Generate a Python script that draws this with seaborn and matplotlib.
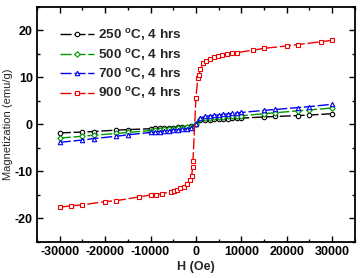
import matplotlib
matplotlib.use("Agg")
import matplotlib.pyplot as plt
import seaborn as sns
import pandas as pd
from matplotlib.ticker import MultipleLocator

sns.set_theme(style="ticks")
plt.rcParams['font.family'] = ['Liberation Sans', 'DejaVu Sans']
plt.rcParams['axes.unicode_minus'] = False

# ---- data ----
H_low = [-30000, -25000, -22500, -17500, -15000, -10000, -9000, -8000, -7000, -6000,
         -5000, -4000, -3000, -2000, -1000, 0, 1000, 2000, 3000, 4000, 5000, 6000,
         7000, 8000, 9000, 10000, 15000, 17500, 22500, 25000, 30000]
M_250 = [-1.8, -1.6, -1.5, -1.2, -1.1, -0.9, -0.85, -0.8, -0.75, -0.7,
         -0.65, -0.6, -0.5, -0.45, -0.35, 0.0, 0.9, 1.0, 1.05, 1.1, 1.15, 1.2,
         1.25, 1.3, 1.3, 1.35, 1.6, 1.7, 1.9, 2.0, 2.3]
M_500 = [-2.9, -2.5, -2.3, -1.9, -1.7, -1.3, -1.2, -1.1, -1.0, -0.95,
         -0.9, -0.8, -0.7, -0.6, -0.45, 0.0, 1.1, 1.3, 1.4, 1.5, 1.55, 1.6,
         1.7, 1.75, 1.8, 1.85, 2.3, 2.5, 2.9, 3.1, 3.5]
M_700 = [-3.8, -3.3, -3.0, -2.5, -2.2, -1.7, -1.6, -1.5, -1.4, -1.3,
         -1.2, -1.1, -1.0, -0.9, -0.7, 0.2, 1.4, 1.7, 1.85, 1.95, 2.05, 2.15,
         2.25, 2.35, 2.45, 2.55, 3.0, 3.2, 3.6, 3.8, 4.3]
H_900 = [-30000, -27500, -25000, -20000, -17500, -12500, -10000, -8900, -7400, -5600,
         -4800, -4100, -3400, -2600, -1900, -1400, -950, -700, -650, 0, 400, 700,
         1000, 1500, 2300, 3100, 4000, 4900, 5800, 6900, 8000, 9100, 12500, 15000,
         20000, 22500, 27500, 30000]
M_900 = [-17.6, -17.3, -17.1, -16.4, -16.2, -15.4, -15.0, -14.9, -14.7, -14.3,
         -14.2, -14.0, -13.6, -13.3, -12.6, -11.8, -10.9, -9.0, -7.8, 5.7, 9.8, 10.5,
         11.9, 13.0, 13.5, 13.9, 14.3, 14.5, 14.7, 15.0, 15.1, 15.3, 15.8, 16.2,
         16.7, 17.0, 17.6, 17.9]
labels = ["250 $^{\\mathregular{o}}$C, 4 hrs", "500 $^{\\mathregular{o}}$C, 4 hrs",
          "700 $^{\\mathregular{o}}$C, 4 hrs", "900 $^{\\mathregular{o}}$C, 4 hrs"]
x_ticks = [-30000, -20000, -10000, 0, 10000, 20000, 30000]
y_ticks = [-20, -10, 0, 10, 20]

series = [
    (H_low, M_250, "#000000", "o"),
    (H_low, M_500, "#009900", "D"),
    (H_low, M_700, "#0000ee", "^"),
    (H_900, M_900, "#ee0000", "s"),
]

fig = plt.figure(figsize=(3.61, 2.78), dpi=100)
ax = fig.add_axes([0.1025, 0.1295, 0.8805, 0.8455])

for (hx, my, col, mk), lab in zip(series, labels):
    df = pd.DataFrame({"H": hx, "M": my})
    ms = 3.2 if mk != "D" else 2.8
    sns.lineplot(data=df, x="H", y="M", ax=ax, sort=False, color=col, label=lab,
                 marker=mk, markersize=ms, markerfacecolor="white",
                 markeredgecolor=col, markeredgewidth=0.8, linewidth=1.0,
                 linestyle=(0, (8, 2)))

ax.set_xlim(-35000, 35000)
ax.set_ylim(-25, 25)
ax.set_xticks(x_ticks)
ax.set_yticks(y_ticks)
ax.set_xticklabels([str(v) for v in x_ticks])
ax.set_yticklabels([str(v) for v in y_ticks])
ax.xaxis.set_minor_locator(MultipleLocator(5000))
ax.yaxis.set_minor_locator(MultipleLocator(5))
ax.tick_params(which="both", direction="in", top=True, right=True, colors="black",
               width=1.0)
ax.tick_params(which="major", length=4, labelsize=9, pad=3)
ax.tick_params(which="minor", length=2)
for lbl in ax.get_xticklabels() + ax.get_yticklabels():
    lbl.set_fontweight("bold")
for sp in ax.spines.values():
    sp.set_linewidth(1.3)
    sp.set_color("black")

ax.set_xlabel("H (Oe)", fontsize=9, fontweight="bold", labelpad=2)
ax.set_ylabel("Magnetization (emu/g)", fontsize=8, labelpad=1)

leg = ax.legend(loc="upper left", bbox_to_anchor=(0.035, 0.965), frameon=False,
                handlelength=2.5, handletextpad=0.3, labelspacing=0.25,
                borderaxespad=0.5, prop={"weight": "bold", "size": 9.7})

fig.savefig("out.png", dpi=100)
